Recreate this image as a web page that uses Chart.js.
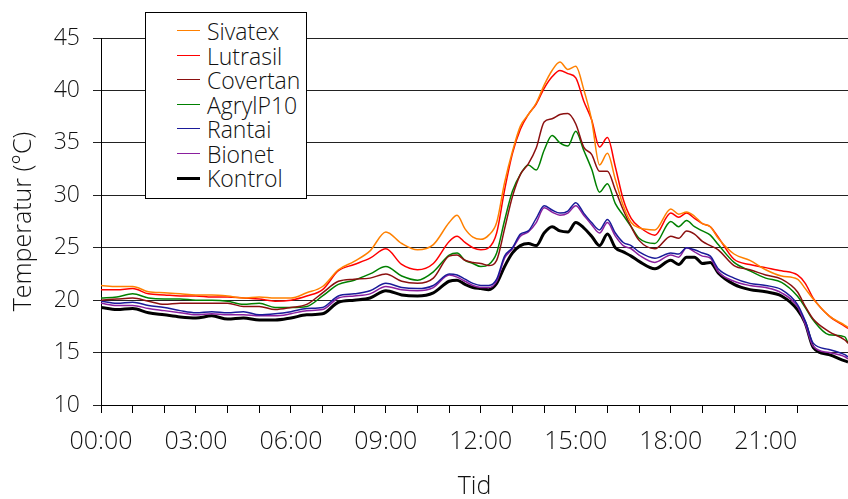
<!DOCTYPE html>
<html>
<head>
<meta charset="utf-8">
<script src="https://cdn.jsdelivr.net/npm/chart.js@4.4.1/dist/chart.umd.min.js"></script>
<style>
  body { margin: 0; background: #fff; }
  #wrap { position: relative; width: 848px; height: 499px; }
  #legend {
    position: absolute; left: 145px; top: 12px; width: 160px; height: 179px;
    border: 1px solid #000; background: #fff; padding-top: 6px; box-sizing: content-box;
    font-family: "Open Sans", sans-serif; font-weight: 300; font-size: 23px; color: #111;
  }
  .row { height: 24.5px; line-height: 24.5px; position: relative; white-space: nowrap; }
  .row span.ln { position: absolute; left: 31px; top: 12px; width: 23px; }
  .row span.tx { position: absolute; left: 61px; top: 0; }
</style>
</head>
<body>
<div id="wrap">
  <canvas id="chart" width="848" height="499"></canvas>
  <div id="legend"></div>
</div>
<script>
// time of day in hours
const times = [0, 0.5, 1, 1.5, 2, 2.5, 3, 3.5, 4, 4.5, 5, 5.5, 6, 6.5, 7, 7.5, 8, 8.5, 9, 9.5, 10, 10.5, 11,
  11.25, 11.5, 11.75, 12, 12.25, 12.5, 12.75, 13, 13.25, 13.5, 13.75, 14, 14.25, 14.5, 14.75, 15,
  15.25, 15.5, 15.75, 16, 16.25, 16.5, 16.75, 17, 17.5, 18, 18.25, 18.5, 18.75, 19, 19.25, 19.5,
  20, 20.5, 21, 21.5, 22, 22.25, 22.5, 23, 23.5, 23.6];

const tickLabels = ["00:00", "03:00", "06:00", "09:00", "12:00", "15:00", "18:00", "21:00"];

const sivatex = [21.4, 21.3, 21.3, 20.8, 20.7, 20.6, 20.5, 20.5, 20.4, 20.2, 20.3, 20.2, 20.2, 20.7, 21.3, 22.9, 23.7, 24.7, 26.5, 25.4, 24.8, 25.3, 27.4,
  28.1, 26.8, 26.0, 25.8, 26.2, 27.4, 31.2, 34.2, 36.6, 37.7, 38.8, 40.5, 41.9, 42.7, 42.0, 42.3,
  40.1, 37.2, 32.9, 34.0, 31.5, 29.0, 27.4, 26.9, 26.7, 28.7, 28.2, 28.4, 28.0, 27.3, 27.0, 25.9,
  24.4, 23.8, 22.9, 22.3, 22.0, 21.1, 20.1, 18.5, 17.6, 17.4];

const lutrasil = [21.0, 21.0, 21.1, 20.6, 20.5, 20.4, 20.4, 20.3, 20.3, 20.2, 20.1, 19.9, 20.0, 20.4, 21.0, 22.8, 23.4, 24.0, 24.9, 23.4, 22.9, 23.5, 25.6,
  26.1, 25.5, 25.0, 24.8, 25.0, 26.4, 30.5, 34.0, 36.3, 37.7, 38.7, 40.2, 41.3, 41.9, 41.6, 41.2,
  39.0, 37.2, 34.6, 35.5, 32.7, 29.6, 27.8, 27.0, 26.2, 28.3, 27.9, 28.3, 27.8, 27.3, 27.0, 26.0,
  23.9, 23.4, 23.1, 22.8, 22.4, 21.6, 20.2, 18.5, 17.5, 17.3];

const covertan = [20.0, 20.1, 20.2, 19.9, 19.6, 19.7, 19.7, 19.7, 19.7, 19.4, 19.4, 19.1, 19.3, 19.6, 20.7, 21.8, 22.0, 22.1, 22.5, 21.8, 21.6, 22.1, 24.2,
  24.3, 23.8, 23.6, 23.5, 23.3, 23.8, 26.8, 29.9, 32.0, 33.0, 34.5, 37.0, 37.3, 37.7, 37.8, 36.8,
  34.6, 33.9, 32.3, 32.3, 30.5, 28.6, 27.0, 25.7, 24.9, 26.1, 25.9, 26.6, 26.3, 25.6, 25.2, 24.8,
  23.3, 22.9, 22.4, 22.0, 20.8, 19.4, 18.2, 17.0, 16.2, 15.9];

const agryl = [20.2, 20.3, 20.6, 20.2, 20.1, 20.1, 20.0, 20.0, 19.9, 19.6, 19.7, 19.3, 19.3, 19.4, 20.4, 21.5, 21.9, 22.5, 23.2, 22.3, 21.9, 22.7, 24.3,
  24.5, 23.8, 23.5, 23.2, 23.4, 24.5, 27.6, 30.4, 32.0, 32.9, 32.4, 34.3, 35.7, 35.0, 34.7, 36.1,
  34.3, 32.5, 30.3, 31.1, 29.2, 28.1, 27.0, 25.9, 25.4, 27.5, 27.0, 27.6, 27.0, 26.6, 26.2, 25.3,
  23.6, 22.8, 22.1, 21.7, 20.4, 19.3, 18.1, 16.7, 16.5, 15.9];

const rantai = [19.9, 19.7, 19.8, 19.5, 19.3, 19.0, 18.8, 18.9, 18.8, 18.9, 18.6, 18.7, 18.9, 19.2, 19.3, 20.4, 20.6, 20.9, 21.6, 21.2, 21.1, 21.4, 22.5,
  22.4, 22.0, 21.6, 21.4, 21.4, 22.0, 24.2, 25.0, 26.3, 26.6, 27.8, 29.0, 28.6, 28.3, 28.5, 29.3,
  28.3, 27.4, 26.7, 27.7, 26.4, 25.5, 25.2, 24.6, 24.0, 24.5, 24.4, 25.0, 24.8, 24.5, 24.2, 23.0,
  22.1, 21.6, 21.4, 21.0, 19.6, 18.0, 15.9, 15.3, 14.8, 14.6];

const bionet = [19.7, 19.5, 19.5, 19.2, 19.0, 18.8, 18.6, 18.7, 18.6, 18.6, 18.5, 18.5, 18.7, 19.0, 19.1, 20.2, 20.4, 20.6, 21.3, 21.0, 20.9, 21.2, 22.4,
  22.2, 21.8, 21.4, 21.2, 21.2, 21.8, 24.0, 24.9, 26.1, 26.5, 27.4, 28.8, 28.4, 28.1, 28.3, 29.0,
  28.1, 27.2, 26.4, 27.4, 26.1, 25.2, 24.9, 24.3, 23.6, 24.3, 24.1, 25.0, 24.6, 24.2, 24.0, 22.7,
  21.8, 21.4, 21.2, 20.7, 19.4, 17.7, 15.6, 15.0, 14.6, 14.4];

const kontrol = [19.3, 19.1, 19.2, 18.8, 18.6, 18.4, 18.3, 18.5, 18.2, 18.3, 18.1, 18.1, 18.3, 18.6, 18.7, 19.8, 20.0, 20.2, 20.9, 20.5, 20.4, 20.7, 21.8,
  21.9, 21.5, 21.2, 21.1, 21.0, 21.6, 23.2, 24.5, 25.2, 25.4, 25.2, 26.4, 27.0, 26.6, 26.5, 27.4,
  26.9, 26.1, 25.2, 26.3, 25.0, 24.6, 24.2, 23.7, 23.0, 23.8, 23.4, 24.1, 24.1, 23.5, 23.6, 22.6,
  21.5, 21.0, 20.8, 20.4, 19.1, 17.8, 15.5, 14.8, 14.2, 14.1];

const seriesNames = ["Sivatex", "Lutrasil", "Covertan", "AgrylP10", "Rantai", "Bionet", "Kontrol"];
const seriesData = [sivatex, lutrasil, covertan, agryl, rantai, bionet, kontrol];
const colors = ["#ff8000", "#ff0000", "#8b1010", "#008000", "#1a1a99", "#8a1f9e", "#000000"];
const widths = [1.5, 1.5, 1.5, 1.5, 1.5, 1.5, 3];

const datasets = seriesNames.map((name, i) => ({
    label: name,
    data: times.map((t, j) => ({ x: t, y: seriesData[i][j] })),
    borderColor: colors[i],
    backgroundColor: colors[i],
    borderWidth: widths[i],
    pointRadius: 0,
    cubicInterpolationMode: "monotone",
    fill: false
}));

// legend box drawn as html
const legend = document.getElementById("legend");
seriesNames.forEach((name, i) => {
    const row = document.createElement("div");
    row.className = "row";
    row.innerHTML = '<span class="ln" style="border-top:' + widths[i] + 'px solid ' + colors[i] +
        ';margin-top:' + (-widths[i] / 2) + 'px"></span><span class="tx">' + name + '</span>';
    legend.appendChild(row);
});

const font = "'Open Sans', sans-serif";

new Chart(document.getElementById("chart"), {
    type: "line",
    data: { datasets: datasets },
    options: {
        responsive: false,
        animation: false,
        devicePixelRatio: 1,
        layout: { padding: { top: 38, right: 0, left: 0, bottom: 0 } },
        plugins: { legend: { display: false }, tooltip: { enabled: false } },
        scales: {
            x: {
                type: "linear",
                min: 0,
                max: 23.6,
                afterBuildTicks: s => { s.ticks = s.ticks.filter(t => Number.isInteger(t.value)); },
                afterFit: s => { s.height = 94; },
                ticks: {
                    stepSize: 1,
                    autoSkip: false,
                    maxRotation: 0,
                    padding: 14,
                    color: "#111",
                    font: { family: font, size: 25, weight: 300 },
                    callback: v => (v % 3 === 0 ? tickLabels[v / 3] : "")
                },
                grid: { drawOnChartArea: false, drawTicks: true, tickLength: 8, color: "#000" },
                border: { color: "#000", width: 1 },
                title: {
                    display: true,
                    text: "Tid",
                    color: "#111",
                    padding: 0,
                    font: { family: font, size: 25, weight: 300, lineHeight: 1 }
                }
            },
            y: {
                min: 10,
                max: 45,
                afterFit: s => { s.width = 101; },
                ticks: {
                    stepSize: 5,
                    padding: 13,
                    color: "#111",
                    font: { family: font, size: 23, weight: 300 }
                },
                grid: { color: "#222", tickLength: 8 },
                border: { color: "#000", width: 1 },
                title: {
                    display: true,
                    text: "Temperatur (°C)",
                    color: "#111",
                    padding: { top: 9, bottom: 0 },
                    font: { family: font, size: 25, weight: 300 }
                }
            }
        }
    }
});
</script>
</body>
</html>
